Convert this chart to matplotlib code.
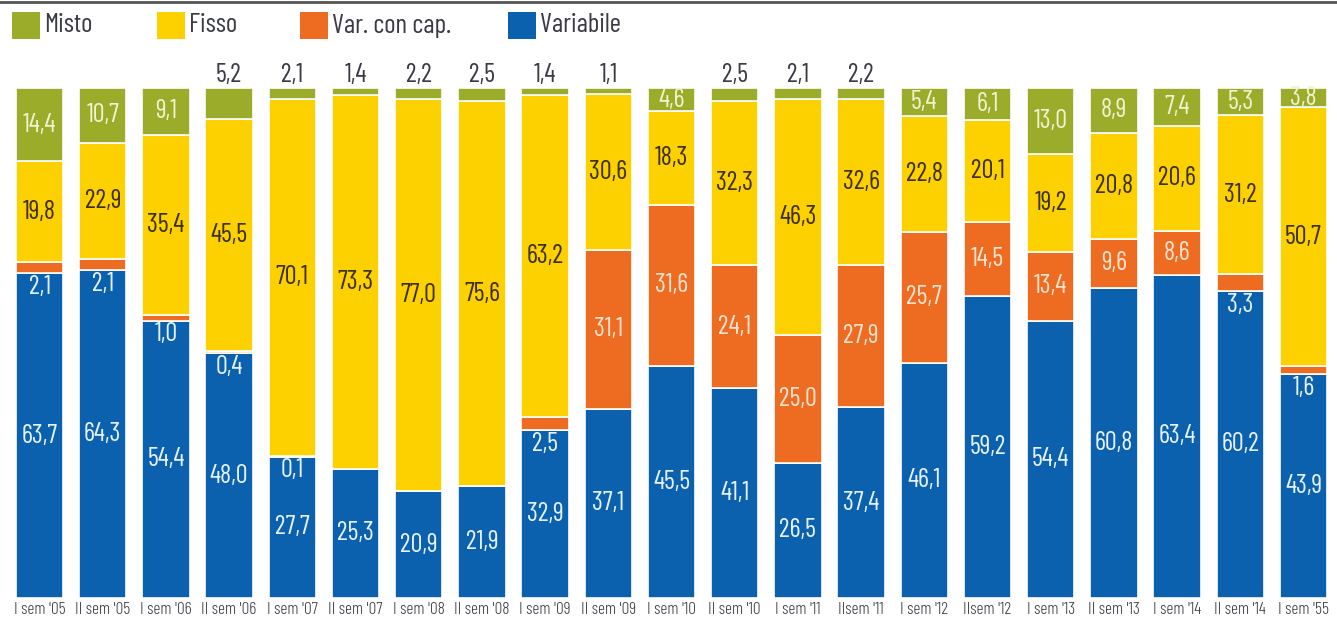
import matplotlib.pyplot as plt
from matplotlib.patches import Rectangle
import numpy as np

categories = ["I sem '05", "II sem '05", "I sem '06", "II sem '06", "I sem '07",
              "II sem '07", "I sem '08", "II sem '08", "I sem '09", "II sem '09",
              "I sem '10", "II sem '10", "I sem '11", "IIsem '11", "I sem '12",
              "IIsem '12", "I sem '13", "II sem '13", "I sem '14", "II sem '14",
              "I sem '55"]

variabile = [63.7, 64.3, 54.4, 48.0, 27.7, 25.3, 20.9, 21.9, 32.9, 37.1, 45.5,
             41.1, 26.5, 37.4, 46.1, 59.2, 54.4, 60.8, 63.4, 60.2, 43.9]
var_cap = [2.1, 2.1, 1.0, 0.4, 0.1, 0.0, 0.0, 0.0, 2.5, 31.1, 31.6,
           24.1, 25.0, 27.9, 25.7, 14.5, 13.4, 9.6, 8.6, 3.3, 1.6]
fisso = [19.8, 22.9, 35.4, 45.5, 70.1, 73.3, 77.0, 75.6, 63.2, 30.6, 18.3,
         32.3, 46.3, 32.6, 22.8, 20.1, 19.2, 20.8, 20.6, 31.2, 50.7]
misto = [14.4, 10.7, 9.1, 5.2, 2.1, 1.4, 2.2, 2.5, 1.4, 1.1, 4.6,
         2.5, 2.1, 2.2, 5.4, 6.1, 13.0, 8.9, 7.4, 5.3, 3.8]

# bars whose "Misto" value is written above the bar
misto_above = {3, 4, 5, 6, 7, 8, 9, 11, 12, 13}

GREEN = "#9bab2a"
YELLOW = "#fdd000"
ORANGE = "#ee6b22"
BLUE = "#0b61ad"
DARK = "#3a3b45"

plt.rcParams['font.family'] = ['Barlow Condensed', 'DejaVu Sans']
plt.rcParams['font.weight'] = 400

def fmt(v):
    return f"{v:.1f}".replace(".", ",")

fig = plt.figure(figsize=(13.37, 6.26), dpi=100)
fig.patch.set_facecolor("white")

# pixel layout of the reference
W, H = 1337, 626
px0, py0, py100 = 39.5, 598, 88
step = 63.2
xmin = -px0 / step
xmax = xmin + W / step
ax = fig.add_axes([0, (H - py0) / H, 1, (py0 - py100) / H])
ax.set_xlim(xmin, xmax)
ax.set_ylim(0, 100)

x = np.arange(len(categories))
width = 0.75
edge = dict(edgecolor="white", linewidth=1.2)

b_var = np.array(variabile)
b_cap = b_var + np.array(var_cap)
b_fis = b_cap + np.array(fisso)

ax.bar(x, variabile, width, color=BLUE, **edge)
ax.bar(x, var_cap, width, bottom=b_var, color=ORANGE, **edge)
ax.bar(x, fisso, width, bottom=b_cap, color=YELLOW, **edge)
# misto fills up to the top of the bar
ax.bar(x, 100 - b_fis, width, bottom=b_fis, color=GREEN, **edge)

fs = 19
for i in x:
    # variabile
    ax.text(i, variabile[i] / 2, fmt(variabile[i]), ha="center", va="center",
            color="#e6f2ff", fontsize=fs)
    # var. con cap.
    c = var_cap[i]
    if c > 0:
        if c < 4:
            ax.text(i, b_var[i] - 0.3, fmt(c), ha="center", va="top",
                    color="#e6f2ff", fontsize=fs)
        else:
            ax.text(i, b_var[i] + c / 2, fmt(c), ha="center", va="center",
                    color="#fde3cf", fontsize=fs)
    # fisso
    ax.text(i, b_cap[i] + fisso[i] / 2, fmt(fisso[i]), ha="center", va="center",
            color="#3b3012", fontsize=fs)
    # misto
    if i in misto_above:
        ax.text(i, 102.6, fmt(misto[i]), ha="center", va="center",
                color=DARK, fontsize=fs, clip_on=False)
    else:
        ax.text(i, (b_fis[i] + 100) / 2, fmt(misto[i]), ha="center", va="center",
                color="#eef3d0", fontsize=fs)

ax.set_xticks(x)
ax.set_xticklabels(categories, fontsize=12.5, color=DARK, fontweight=300)
ax.tick_params(axis="x", length=0, pad=3)
ax.set_yticks([])
for s in ax.spines.values():
    s.set_visible(False)

# top rule
fig.add_artist(plt.Line2D([0, 1], [1 - 2 / H, 1 - 2 / H], color="#555555",
                          linewidth=2, transform=fig.transFigure))

# legend
legend_items = [("Misto", GREEN, 12), ("Fisso", YELLOW, 157),
                ("Var. con cap.", ORANGE, 300), ("Variabile", BLUE, 508)]
for name, col, lx in legend_items:
    fig.add_artist(Rectangle((lx / W, 1 - 39 / H), 28 / W, 27 / H,
                             transform=fig.transFigure, facecolor=col,
                             edgecolor="none"))
    fig.text((lx + 32) / W, 1 - 25.5 / H, name, ha="left", va="center",
             fontsize=19.5, color=DARK)

fig.savefig("out.png", dpi=100, facecolor="white")
